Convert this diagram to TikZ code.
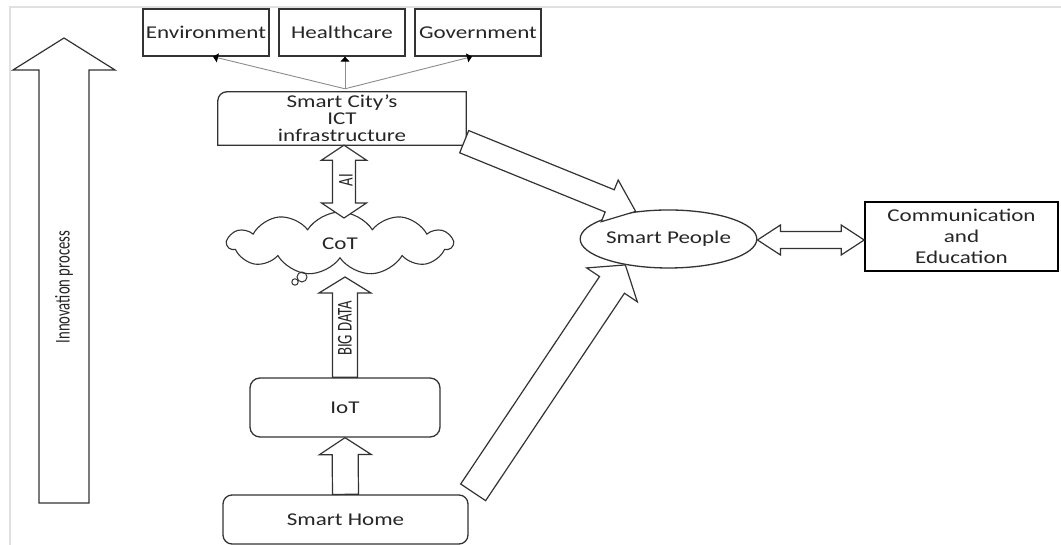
\documentclass[tikz,border=0pt]{standalone}
\usepackage{fontspec}
\setmainfont[FakeStretch=1.28]{Carlito}
\newfontfamily\condfont[FakeStretch=0.7]{Carlito}
\usetikzlibrary{arrows.meta,calc,shapes.geometric,shapes.symbols}

\tikzset{
  boxline/.style={draw=black!80, line width=1.3pt},
  sqbox/.style={boxline, minimum width=126pt, minimum height=47pt, inner sep=0pt},
  barrow/.style={draw=black!80, line width=1.2pt, fill=white, line join=miter},
  link/.style={draw=black!45, line width=0.9pt, -{Triangle[length=5pt,width=9pt,color=black]}},
  condlbl/.style={font=\condfont\fontsize{21}{21}\selectfont, text=black!85, inner sep=0pt},
}

\newcommand\blockarrow[5]{%
  \draw[barrow] let \p1=(#1), \p2=(#2), \n1={atan2(\y2-\y1,\x2-\x1)}, \n2={veclen(\x2-\x1,\y2-\y1)} in
    [shift={(\p1)}, rotate=\n1]
    (0pt,{-(#3)/2*1pt}) -- ({\n2-(#5)*1pt},{-(#3)/2*1pt}) -- ({\n2-(#5)*1pt},{-(#4)/2*1pt})
    -- (\n2,0pt) -- ({\n2-(#5)*1pt},{(#4)/2*1pt}) -- ({\n2-(#5)*1pt},{(#3)/2*1pt})
    -- (0pt,{(#3)/2*1pt}) -- cycle;}

\newcommand\dblarrow[5]{%
  \draw[barrow] let \p1=(#1), \p2=(#2), \n1={atan2(\y2-\y1,\x2-\x1)}, \n2={veclen(\x2-\x1,\y2-\y1)} in
    [shift={(\p1)}, rotate=\n1]
    (0pt,0pt) -- ({(#5)*1pt},{(#4)/2*1pt}) -- ({(#5)*1pt},{(#3)/2*1pt})
    -- ({\n2-(#5)*1pt},{(#3)/2*1pt}) -- ({\n2-(#5)*1pt},{(#4)/2*1pt}) -- (\n2,0pt)
    -- ({\n2-(#5)*1pt},{-(#4)/2*1pt}) -- ({\n2-(#5)*1pt},{-(#3)/2*1pt})
    -- ({(#5)*1pt},{-(#3)/2*1pt}) -- ({(#5)*1pt},{-(#4)/2*1pt}) -- cycle;}

\begin{document}
\begin{tikzpicture}[x=1pt, y=1pt, font=\fontsize{18}{17}\selectfont, text=black!85]
\useasboundingbox (0,0) rectangle (1061,545);
\fill[white] (0,0) rectangle (1061,545);
% faint frame
\draw[black!12, line width=2pt] (10,0) -- (10,538) -- (1061,538);

% top boxes
\node[sqbox] (env) at (206,512.5) {Environment};
\node[sqbox] (health) at (342,512.5) {Healthcare};
\node[sqbox] (gov) at (478,512.5) {Government};

% ICT box (only top-left corner rounded)
\node[minimum width=248pt, minimum height=53pt, inner sep=0pt, align=center] (ict) at (342,426.5)
  {Smart City’s\\ICT\\infrastructure};
\draw[boxline] (ict.south west) -- ($(ict.north west)+(0,-9)$) arc[start angle=180, end angle=90, radius=9]
  -- (ict.north east) -- (ict.south east) -- cycle;

% links to top boxes
\coordinate (hub) at ($(ict.north)+(3,3)$);
\draw[link] (hub) -- ($(env.south)+(7,0)$);
\draw[link] (hub) -- (health.south -| hub);
\draw[link] (hub) -- ($(gov.south)+(-6,0)$);

% cloud
\node[cloud, draw=black!80, line width=1.1pt, cloud puffs=11, cloud puff arc=115, aspect=3.6,
      minimum width=225pt, minimum height=63pt, inner sep=0pt] (cot) at (340,301.5) {CoT};
\draw[black!80, line width=1pt] (302,268) circle (5);
\draw[black!80, line width=1pt] (295,263) circle (3.2);

% IoT and Smart Home
\node[boxline, rounded corners=10pt, minimum width=190pt, minimum height=59pt] (iot) at (345,137.5) {IoT};
\node[boxline, rounded corners=9pt, minimum width=245pt, minimum height=49pt] (home) at (345.5,25.5) {Smart Home};

% Smart People and Communication
\node[boxline, ellipse, minimum width=173pt, minimum height=58pt, inner sep=0pt] (people) at (668.5,306) {Smart People};
\node[draw=black, line width=1.6pt, minimum width=193pt, minimum height=69pt, inner sep=0pt, align=center,
      font=\fontsize{18}{21}\selectfont] (comm) at (961.5,308.5) {Communication\\and\\Education};

% vertical block arrows
\coordinate (aiT) at ($(ict.south)+(2,0)$);
\coordinate (aiB) at (aiT |- 0,327);
\dblarrow{aiB}{aiT}{23}{45}{15}
\node[condlbl, rotate=90] (ailbl) at (346,365) {AI};

\coordinate (bdB) at (iot.north);
\coordinate (bdT) at (bdB |- 0,268);
\blockarrow{bdB}{bdT}{25}{52}{16}
\node[condlbl, rotate=90] (bdlbl) at (345,216.5) {BIG DATA};

\blockarrow{home.north}{iot.south}{26}{52}{17}

% diagonal block arrows
\coordinate (ictTail) at ($(ict.south east)+(-2,3.5)$);
\blockarrow{ictTail}{people.140}{24}{45}{28}
\coordinate (homeTail) at ($(home.north east)+(4.5,2)$);
\blockarrow{homeTail}{people.211}{30}{61}{24}

% double arrow people <-> communication
\coordinate (dL) at (people.east |- 0,305);
\coordinate (dR) at (comm.west |- 0,305);
\dblarrow{dL}{dR}{17}{30}{23}

% innovation process arrow
\coordinate (innB) at (64,42);
\coordinate (innT) at (64,507);
\blockarrow{innB}{innT}{50}{102}{32}
\node[condlbl, rotate=90] (innlbl) at (64,258) {Innovation process};
\end{tikzpicture}
\end{document}
